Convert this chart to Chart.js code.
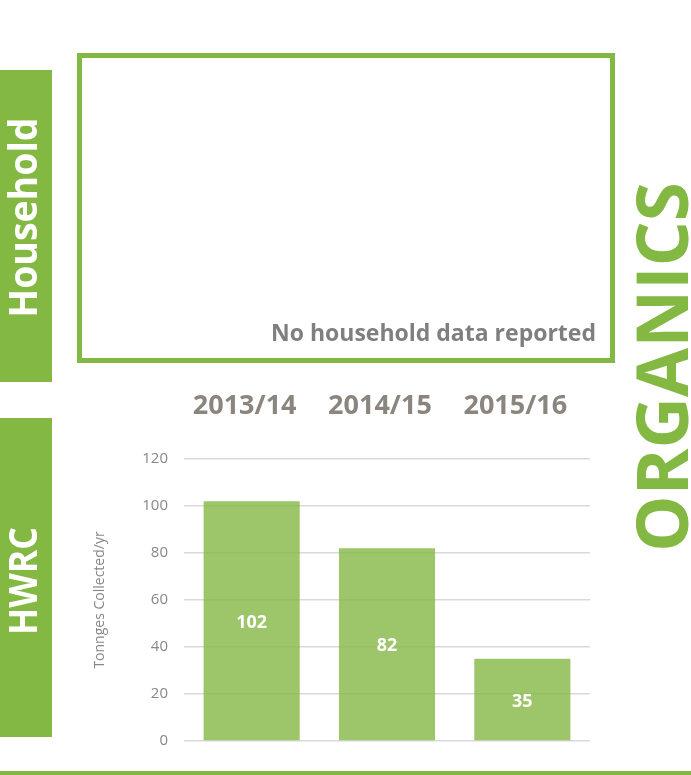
<!DOCTYPE html>
<html>
<head>
<meta charset="utf-8">
<script src="https://cdn.jsdelivr.net/npm/chart.js@4/dist/chart.umd.min.js"></script>
<style>
html,body{margin:0;padding:0;background:#fff;}
#wrap{position:relative;width:691px;height:775px;overflow:hidden;}
canvas{display:block;}
</style>
</head>
<body>
<div id="wrap"><canvas id="c" width="691" height="775"></canvas></div>
<script>
// ---- data ----
const categories = ['2013/14', '2014/15', '2015/16'];
const tonnes = [102, 82, 35];
const yTicks = [0, 20, 40, 60, 80, 100, 120];
const sideLabels = ['Household', 'HWRC'];
const materialTitle = 'ORGANICS';
const noDataNote = 'No household data reported';
const yAxisTitle = 'Tonnges Collected/yr';

// ---- styles ----
const GREEN = '#83b843';
const BAR = 'rgba(131,184,67,0.80)';
const YEAR_GREY = '#8b857e';
const TICK_GREY = '#8a8783';
const FONT = '"Open Sans", "Liberation Sans", sans-serif';

function vText(ctx, text, centerY, baselineX, font, color, targetLen) {
  ctx.save();
  ctx.font = font;
  ctx.fillStyle = color;
  ctx.textAlign = 'center';
  ctx.textBaseline = 'alphabetic';
  ctx.translate(baselineX, centerY);
  ctx.rotate(-Math.PI / 2);
  if (targetLen) {
    const w = ctx.measureText(text).width;
    ctx.scale(targetLen / w, 1);
  }
  ctx.fillText(text, 0, 0);
  ctx.restore();
}

const decorations = {
  id: 'decorations',
  beforeDraw(chart) {
    const ctx = chart.ctx;
    ctx.save();
    ctx.fillStyle = '#ffffff';
    ctx.fillRect(0, 0, chart.width, chart.height);
    ctx.fillStyle = GREEN;
    ctx.fillRect(0, 70, 52, 312);
    ctx.fillRect(0, 418, 52, 319);
    ctx.fillRect(0, 771, chart.width, 4);
    ctx.strokeStyle = GREEN;
    ctx.lineWidth = 5;
    ctx.strokeRect(79.5, 55.5, 533, 305);
    ctx.restore();
  },
  afterDraw(chart) {
    const ctx = chart.ctx;
    vText(ctx, sideLabels[0], 217.5, 37, 'bold 40px ' + FONT, '#ffffff', 200);
    vText(ctx, sideLabels[1], 581, 37, 'bold 40px ' + FONT, '#ffffff', 108);
    vText(ctx, materialTitle, 367, 688, 'bold 71px ' + FONT, GREEN, 370);
    ctx.save();
    ctx.font = 'bold 23px ' + FONT;
    ctx.fillStyle = '#7f7f7f';
    ctx.textAlign = 'right';
    ctx.textBaseline = 'alphabetic';
    ctx.fillText(noDataNote, 596, 341);
    ctx.restore();
  }
};

const barLabels = {
  id: 'barLabels',
  afterDatasetsDraw(chart) {
    const ctx = chart.ctx;
    const meta = chart.getDatasetMeta(0);
    ctx.save();
    ctx.font = 'bold 18px ' + FONT;
    ctx.fillStyle = '#ffffff';
    ctx.textAlign = 'center';
    ctx.textBaseline = 'middle';
    meta.data.forEach((bar, i) => {
      const p = bar.getProps(['x', 'y', 'base'], true);
      ctx.fillText(String(tonnes[i]), p.x, (p.y + p.base) / 2 + 2);
    });
    ctx.restore();
  }
};

new Chart(document.getElementById('c'), {
  type: 'bar',
  data: {
    labels: categories,
    datasets: [{
      data: tonnes,
      backgroundColor: BAR,
      borderWidth: 0,
      barPercentage: 0.71,
      categoryPercentage: 1.0
    }]
  },
  options: {
    responsive: false,
    devicePixelRatio: 1,
    animation: false,
    layout: { padding: { left: 80, right: 101, top: 380, bottom: 34 } },
    plugins: { legend: { display: false }, tooltip: { enabled: false } },
    scales: {
      x: {
        position: 'top',
        grid: { display: false, drawTicks: false },
        border: { display: false },
        ticks: {
          color: YEAR_GREY,
          font: { family: FONT, size: 27, weight: 'bold' },
          padding: 36,
          labelOffset: -7,
          maxRotation: 0
        },
        afterFit(scale) { scale.height = 79; }
      },
      y: {
        min: 0,
        max: 120,
        afterBuildTicks(scale) { scale.ticks = yTicks.map(v => ({ value: v })); },
        grid: { color: '#d9d9d9', lineWidth: 1.5, drawTicks: false },
        border: { display: false },
        ticks: {
          color: TICK_GREY,
          font: { family: FONT, size: 15 },
          padding: 16
        },
        title: {
          display: true,
          text: yAxisTitle,
          color: TICK_GREY,
          font: { family: FONT, size: 14 },
          padding: { top: 12, bottom: 0 }
        },
        afterFit(scale) { scale.width = 104; }
      }
    }
  },
  plugins: [decorations, barLabels]
});
</script>
</body>
</html>
